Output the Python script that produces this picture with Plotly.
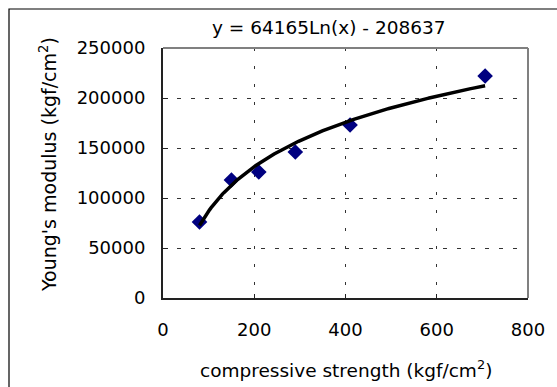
import numpy as np
import plotly.graph_objects as go

# Data
strength = [80, 150, 210, 290, 410, 706]            # kgf/cm2
modulus = [76000, 118000, 126000, 146000, 173000, 222000]  # kgf/cm2
# Logarithmic trendline as printed on the chart
coef_a = 64165
coef_b = -208637
title_text = "y = 64165Ln(x) - 208637"
x_ticks = [0, 200, 400, 600, 800]
y_ticks = [0, 50000, 100000, 150000, 200000, 250000]
y_tick_text = [str(v) for v in y_ticks]

xt = np.linspace(min(strength), max(strength), 200)
yt = coef_a * np.log(xt) + coef_b

FONT = "DejaVu Sans"
W, H = 557, 387
L, R, T, B = 163, 29, 48, 89
pw, ph = W - L - R, H - T - B

def px_to_paper(x, y):
    return (x - L) / pw, (H - B - y) / ph

fig = go.Figure()
fig.add_trace(go.Scatter(x=strength, y=modulus, mode="markers",
                         marker=dict(symbol="diamond", size=12, color="#000080",
                                     line=dict(width=0)),
                         showlegend=False))
fig.add_trace(go.Scatter(x=xt, y=yt, mode="lines",
                         line=dict(color="black", width=3.5),
                         showlegend=False))

fig.update_xaxes(range=[0, 800], tickvals=x_ticks, showgrid=True,
                 gridcolor="#333", gridwidth=1, griddash="3px,15px",
                 showline=True, linecolor="#222", linewidth=2,
                 ticks="inside", ticklen=4, tickcolor="#222", zeroline=False,
                 tickfont=dict(family=FONT, size=18, color="black"),
                 ticklabelstandoff=14, mirror=False)
fig.update_yaxes(range=[0, 250000], tickvals=y_ticks, ticktext=y_tick_text,
                 showgrid=True,
                 gridcolor="#333", gridwidth=1, griddash="4px,10px",
                 showline=True, linecolor="#222", linewidth=2,
                 ticks="inside", ticklen=5, tickcolor="#222", zeroline=False,
                 tickfont=dict(family=FONT, size=18, color="black"),
                 ticklabelstandoff=12)

shapes = []
# outer border
x0, y0 = px_to_paper(9, 9)
x1, y1 = px_to_paper(W + 5, H + 5)
shapes.append(dict(type="rect", xref="paper", yref="paper", x0=x0, y0=y1, x1=x1, y1=y0,
                   line=dict(color="black", width=1.2), layer="below"))
# gray top and right plot frame
shapes.append(dict(type="line", xref="paper", yref="paper", x0=0, y0=1, x1=1, y1=1,
                   line=dict(color="#808080", width=2)))
shapes.append(dict(type="line", xref="paper", yref="paper", x0=1, y0=0, x1=1, y1=1,
                   line=dict(color="#808080", width=2)))

annotations = []
ax, ay = px_to_paper(329, 28)
annotations.append(dict(text=title_text, x=ax, y=ay, xref="paper", yref="paper",
                        xanchor="center", yanchor="middle",
                        showarrow=False, font=dict(family=FONT, size=18.5, color="black")))
ax, ay = px_to_paper(346, 369)
annotations.append(dict(text="compressive strength (kgf/cm<sup>2</sup>)", x=ax, y=ay,
                        xref="paper", yref="paper", xanchor="center", yanchor="middle",
                        showarrow=False,
                        font=dict(family=FONT, size=18.5, color="black")))
ax, ay = px_to_paper(48, 165)
annotations.append(dict(text="Young's modulus (kgf/cm<sup>2</sup>)", x=ax, y=ay,
                        xref="paper", yref="paper", xanchor="center", yanchor="middle",
                        showarrow=False, textangle=-90,
                        font=dict(family=FONT, size=19, color="black")))

fig.update_layout(width=W, height=H, margin=dict(l=L, r=R, t=T, b=B),
                  paper_bgcolor="white", plot_bgcolor="white",
                  shapes=shapes, annotations=annotations, showlegend=False)

fig.write_html("out.html")
